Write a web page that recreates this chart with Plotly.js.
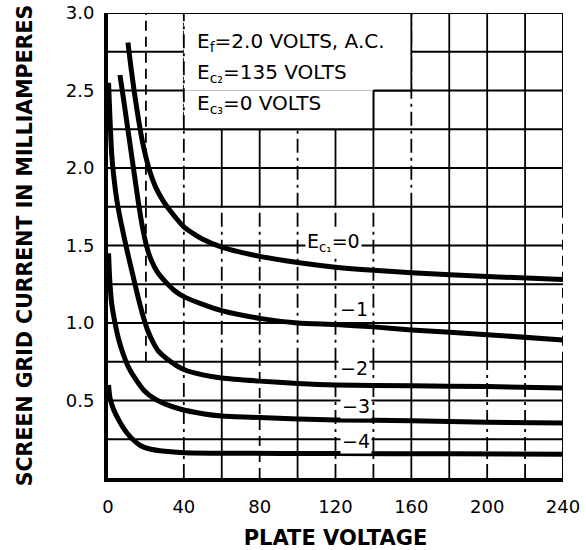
<!DOCTYPE html>
<html>
<head>
<meta charset="utf-8">
<script src="https://cdn.plot.ly/plotly-3.0.1.min.js"></script>
<style>html,body{margin:0;padding:0;background:#fff;}#chart{width:586px;height:550px;}</style>
</head>
<body>
<div id="chart"></div>
<script>
// ---- data (plate voltage V, screen-grid current mA) ----
const v0 = [10.5, 12, 14, 16, 18, 20, 22, 25, 29, 35, 40, 50, 60, 80, 100, 120, 140, 160, 200, 240];
const i0 = [2.81, 2.66, 2.48, 2.32, 2.18, 2.07, 1.98, 1.88, 1.79, 1.69, 1.62, 1.54, 1.49, 1.43, 1.39, 1.36, 1.34, 1.325, 1.30, 1.28];

const v1 = [6.3, 8, 10, 12, 14, 16, 18, 20.5, 23, 26, 30, 35, 40, 50, 60, 80, 100, 120, 140, 160, 200, 240];
const i1 = [2.6, 2.46, 2.29, 2.12, 1.95, 1.78, 1.63, 1.49, 1.40, 1.33, 1.27, 1.21, 1.17, 1.12, 1.08, 1.03, 1.0, 0.99, 0.975, 0.955, 0.925, 0.89];

const v2 = [0.3, 1, 2, 3, 4.7, 7, 10, 12.7, 16, 18.6, 21, 24, 26.5, 31, 40, 50, 60, 80, 100, 120, 160, 200, 240];
const i2 = [2.55, 2.33, 2.08, 1.95, 1.79, 1.64, 1.47, 1.33, 1.16, 1.04, 0.95, 0.87, 0.82, 0.77, 0.70, 0.665, 0.645, 0.625, 0.61, 0.60, 0.595, 0.59, 0.58];

const v3 = [0.3, 1, 2, 3.7, 5.5, 8, 11, 15, 19, 24, 30, 38, 50, 60, 80, 100, 120, 160, 200, 240];
const i3 = [1.45, 1.26, 1.12, 1.0, 0.9, 0.80, 0.71, 0.63, 0.565, 0.515, 0.478, 0.445, 0.415, 0.40, 0.39, 0.38, 0.375, 0.37, 0.36, 0.355];

const v4 = [0.3, 1, 3, 6.3, 10, 13.4, 17, 22, 30, 40, 60, 120, 180, 240];
const i4 = [0.6, 0.52, 0.44, 0.36, 0.29, 0.245, 0.21, 0.187, 0.172, 0.163, 0.16, 0.158, 0.156, 0.153];

const curveLabels = ["E<sub>c₁</sub>=0", "−1", "−2", "−3", "−4"];
const xTickVals = [0, 40, 80, 120, 160, 200, 240];
const xTickText = ["0", "40", "80", "120", "160", "200", "240"];
const yTickVals = [0.5, 1.0, 1.5, 2.0, 2.5, 3.0];
const yTickText = ["0.5", "1.0", "1.5", "2.0", "2.5", "3.0"];
const infoLines = ["E<sub>f</sub>=2.0 VOLTS, A.C.", "E<sub>c₂</sub>=135 VOLTS", "E<sub>c₃</sub>=0 VOLTS"];

// ---- styling / layout helpers ----
const FONT = "DejaVu Sans";
const DASHDOT = "14px,5px,3px,5px";
const DASH = "10px,6px";
const styleMap = {s: "solid", d: DASH, dd: DASHDOT};
const GW = 1.8;

const traces = [[v0,i0],[v1,i1],[v2,i2],[v3,i3],[v4,i4]].map(([x,y]) => ({
  x: x, y: y, type: "scatter", mode: "lines",
  line: {color: "#000", width: 5, shape: "spline", smoothing: 0.6},
  hoverinfo: "skip", showlegend: false, cliponaxis: false
}));

const shapes = [];
function seg(x0, y0, x1, y1, dash, w) {
  shapes.push({type: "line", xref: "x", yref: "y", x0: x0, y0: y0, x1: x1, y1: y1,
    layer: "below", line: {color: "#000", width: w || GW, dash: dash || "solid"}});
}
// horizontal grid lines
for (let k = 1; k <= 12; k++) seg(0, k * 0.25, 240, k * 0.25, "solid", k === 12 ? 2 : GW);
// vertical grid lines, style per band (bottom, middle, top)
const bands = [[0, 0.75], [0.75, 1.75], [1.75, 3.0]];
const vStyle = {
  20:  [null, "d", "d"],
  40:  ["dd", "dd", "dd"],
  60:  ["s", "dd", "s"],
  80:  ["d", "dd", "s"],
  100: ["s", "dd", "dd"],
  120: ["dd", "dd", "s"],
  140: ["dd", "dd", "s"],
  160: ["s", "s", "dd"],
  180: ["s", "s", "s"],
  200: ["dd", "s", "s"],
  220: ["dd", "s", "s"],
  240: ["s", "d", "s"]
};
Object.keys(vStyle).forEach(k => {
  const xv = +k;
  vStyle[k].forEach((st, b) => {
    if (st) seg(xv, bands[b][0], xv, bands[b][1], styleMap[st], xv === 240 ? 2 : GW);
  });
});
// white info box
shapes.push({type: "rect", xref: "x", yref: "y", x0: 40, x1: 160, y0: 2.5, y1: 3.0, layer: "below", fillcolor: "#fff", line: {width: 0}});
shapes.push({type: "rect", xref: "x", yref: "y", x0: 40, x1: 140, y0: 2.25, y1: 2.5, layer: "below", fillcolor: "#fff", line: {width: 0}});
// box outline redrawn
seg(40, 2.25, 40, 3.0, DASHDOT);
seg(40, 2.25, 140, 2.25, "solid");
seg(140, 2.25, 140, 2.5, "solid");
seg(140, 2.5, 160, 2.5, "solid");
seg(160, 2.5, 160, 3.0, "solid");
seg(40, 3.0, 160, 3.0, "solid", 2);

const annotations = [];
// curve labels
const labelPos = [[134, 1.52], [138, 1.09], [138, 0.71], [139, 0.465], [139, 0.24]];
curveLabels.forEach((t, idx) => {
  annotations.push({x: labelPos[idx][0], y: labelPos[idx][1], xref: "x", yref: "y", text: t,
    showarrow: false, xanchor: "right", yanchor: "middle", bgcolor: "#fff", borderpad: 1,
    font: {family: FONT, size: 19, color: "#000"}});
});
// info lines
const infoY = [2.81, 2.615, 2.415];
infoLines.forEach((t, idx) => {
  annotations.push({x: 46, y: infoY[idx], xref: "x", yref: "y", text: t, showarrow: false,
    xanchor: "left", yanchor: "middle", font: {family: FONT, size: 20, color: "#000"}});
});

const layout = {
  width: 586, height: 550,
  margin: {l: 108, r: 23, t: 13, b: 72, pad: 0},
  paper_bgcolor: "#fff", plot_bgcolor: "#fff",
  showlegend: false,
  xaxis: {
    range: [0, 240], tickvals: xTickVals, ticktext: xTickText, ticks: "", ticklabelstandoff: 9,
    showgrid: false, zeroline: false, showline: true, linewidth: 4, linecolor: "#000",
    tickfont: {family: FONT, size: 18, color: "#000"},
    title: {text: "PLATE VOLTAGE", standoff: 19, font: {family: FONT, size: 21, color: "#000", weight: "bold"}},
    fixedrange: true
  },
  yaxis: {
    range: [0, 3.0], tickvals: yTickVals, ticktext: yTickText, ticks: "", ticklabelstandoff: 6,
    showgrid: false, zeroline: false, showline: true, linewidth: 4, linecolor: "#000",
    tickfont: {family: FONT, size: 18, color: "#000"},
    title: {text: "SCREEN GRID CURRENT IN MILLIAMPERES", standoff: 29, font: {family: FONT, size: 20.5, color: "#000", weight: "bold"}},
    fixedrange: true
  },
  shapes: shapes,
  annotations: annotations
};

Plotly.newPlot("chart", traces, layout, {displayModeBar: false, staticPlot: true});
</script>
</body>
</html>
